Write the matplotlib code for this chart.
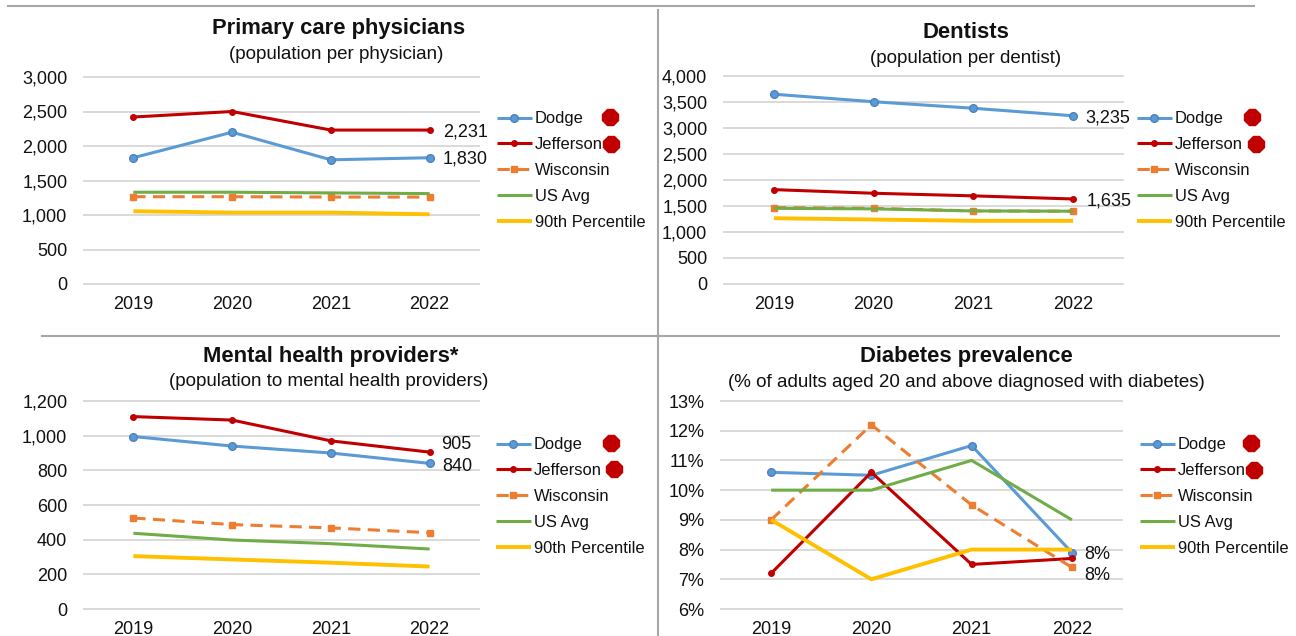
import matplotlib
matplotlib.use('Agg')
import matplotlib.pyplot as plt
from matplotlib.lines import Line2D
from matplotlib.ticker import FuncFormatter

plt.rcParams['font.family'] = ['Liberation Sans', 'DejaVu Sans']

years = ['2019', '2020', '2021', '2022']
series_names = ['Dodge', 'Jefferson', 'Wisconsin', 'US Avg', '90th Percentile']

pcp_dodge = [1830, 2200, 1800, 1830]
pcp_jefferson = [2420, 2500, 2231, 2231]
pcp_wisconsin = [1265, 1265, 1260, 1260]
pcp_us = [1330, 1330, 1320, 1310]
pcp_p90 = [1055, 1035, 1035, 1010]

dent_dodge = [3650, 3505, 3380, 3235]
dent_jefferson = [1815, 1745, 1695, 1635]
dent_wisconsin = [1470, 1455, 1405, 1400]
dent_us = [1455, 1445, 1405, 1400]
dent_p90 = [1265, 1240, 1215, 1215]

mh_dodge = [995, 940, 900, 840]
mh_jefferson = [1110, 1090, 970, 905]
mh_wisconsin = [525, 487, 468, 440]
mh_us = [437, 398, 377, 346]
mh_p90 = [305, 286, 267, 245]

dia_dodge = [10.6, 10.5, 11.5, 7.9]
dia_jefferson = [7.2, 10.6, 7.5, 7.7]
dia_wisconsin = [9.0, 12.2, 9.5, 7.4]
dia_us = [10.0, 10.0, 11.0, 9.0]
dia_p90 = [9.0, 7.0, 8.0, 8.0]

titles = ['Primary care physicians', 'Dentists', 'Mental health providers*', 'Diabetes prevalence']
subtitles = ['(population per physician)', '(population per dentist)',
             '(population to mental health providers)',
             '(% of adults aged 20 and above diagnosed with diabetes)']

W, H = 1296, 636
fig = plt.figure(figsize=(W / 100, H / 100), dpi=100)
fig.patch.set_facecolor('white')


def fx(px):
    return px / W


def fy(py):
    return 1 - py / H


styles = {
    'Dodge': dict(color='#5B9BD5', lw=2.2, marker='o', ms=5.5, mfc='#5B9BD5', mec='#4F81BD'),
    'Jefferson': dict(color='#C00000', lw=2.2, marker='o', ms=4, mfc='#C00000', mec='#C00000'),
    'Wisconsin': dict(color='#ED7D31', lw=2.2, marker='s', ms=5, mfc='#ED7D31', mec='#ED7D31',
                      dashes=(4, 2.4)),
    'US Avg': dict(color='#70AD47', lw=2.2),
    '90th Percentile': dict(color='#FFC000', lw=2.8),
}

thousands = FuncFormatter(lambda v, p: '{:,.0f}'.format(v))
percent = FuncFormatter(lambda v, p: '{:.0f}%'.format(v))

panels = [
    dict(box=(84, 479, 77, 284), data=[pcp_dodge, pcp_jefferson, pcp_wisconsin, pcp_us, pcp_p90],
         ylim=(0, 3000), step=500, fmt=thousands,
         title=(339, 34), sub=(336, 59), leg=(497, 117), dots=[(610, 117), (611, 144)],
         ann=[('Jefferson', '2,231', 13, 0), ('Dodge', '1,830', 13, 1)]),
    dict(box=(724, 1123, 76, 284), data=[dent_dodge, dent_jefferson, dent_wisconsin, dent_us, dent_p90],
         ylim=(0, 4000), step=500, fmt=thousands,
         title=(966, 38), sub=(966, 63), leg=(1137, 117), dots=[(1252, 117), (1256, 144)],
         ann=[('Dodge', '3,235', 12, 0), ('Jefferson', '1,635', 14, 0)]),
    dict(box=(84, 479, 401, 609), data=[mh_dodge, mh_jefferson, mh_wisconsin, mh_us, mh_p90],
         ylim=(0, 1200), step=200, fmt=thousands,
         title=(331, 362), sub=(329, 386), leg=(496, 443), dots=[(611, 443), (614, 469)],
         ann=[('Jefferson', '905', 11, 10), ('Dodge', '840', 13, -1)]),
    dict(box=(721, 1122, 401, 609), data=[dia_dodge, dia_jefferson, dia_wisconsin, dia_us, dia_p90],
         ylim=(6, 13), step=1, fmt=percent,
         title=(966, 362), sub=(966, 387), leg=(1140, 443), dots=[(1251, 443), (1254, 470)],
         ann=[('Dodge', '8%', 12, 0), ('Jefferson', '8%', 12, -15)]),
]

for i, p in enumerate(panels):
    l, r, t, b = p['box']
    ax = fig.add_axes([fx(l), fy(b), (r - l) / W, (b - t) / H])
    ax.set_facecolor('none')
    xs = list(range(len(years)))
    lines = {}
    for name, vals in zip(series_names, p['data']):
        ln, = ax.plot(xs, vals, label=name, solid_capstyle='butt', dash_capstyle='butt',
                      zorder=3, clip_on=False, **styles[name])
        lines[name] = (ln, vals)
    ax.set_xlim(-0.5, len(years) - 0.5)
    lo, hi = p['ylim']
    ax.set_ylim(lo, hi)
    ticks = []
    v = lo
    while v <= hi + 1e-9:
        ticks.append(v)
        v += p['step']
    ax.set_yticks(ticks)
    ax.yaxis.set_major_formatter(p['fmt'])
    ax.set_xticks(xs)
    ax.set_xticklabels(years)
    for s in ax.spines.values():
        s.set_visible(False)
    ax.tick_params(axis='y', length=0, pad=12.0, labelsize=13, labelcolor='#111111')
    ax.tick_params(axis='x', length=0, pad=8.5, labelsize=13, labelcolor='#111111')
    ax.yaxis.grid(True, color='#D9D9D9', lw=1.4)
    ax.set_axisbelow(True)
    for gl in ax.get_ygridlines():
        gl.set_clip_on(False)

    for name, text, dxp, dyp in p['ann']:
        ln, vals = lines[name]
        ax.annotate(text, xy=(xs[-1], vals[-1]), xytext=(dxp, dyp), textcoords='offset pixels',
                    ha='left', va='center_baseline', fontsize=13, color='#111111')

    tx, ty = p['title']
    fig.text(fx(tx), fy(ty), titles[i], ha='center', va='baseline',
             fontsize=15.8, fontweight='bold', color='#111111')
    sx, sy = p['sub']
    fig.text(fx(sx), fy(sy), subtitles[i], ha='center', va='baseline',
             fontsize=13.5, color='#111111')

    lx, ly = p['leg']
    leg = ax.legend(loc='upper left', bbox_to_anchor=(fx(lx), fy(ly - 5.7)),
                    bbox_transform=fig.transFigure, frameon=False, fontsize=11.9,
                    borderpad=0, borderaxespad=0, handlelength=2.1, handletextpad=0.2,
                    labelspacing=0.66, numpoints=1)
    for txt in leg.get_texts():
        txt.set_color('#111111')

    for (dx, dy) in p['dots']:
        fig.add_artist(Line2D([fx(dx)], [fy(dy)], marker='8', ms=12, color='#C00000',
                              mec='#C00000', lw=0))

# divider lines
div = '#A6A6A6'
fig.add_artist(Line2D([fx(8), fx(1254)], [fy(6), fy(6)], color=div, lw=1.5))
fig.add_artist(Line2D([fx(658), fx(658)], [fy(10), fy(636)], color=div, lw=1.5))
fig.add_artist(Line2D([fx(42), fx(1279)], [fy(336), fy(336)], color=div, lw=1.5))

fig.savefig('out.png', dpi=100, facecolor='white')
